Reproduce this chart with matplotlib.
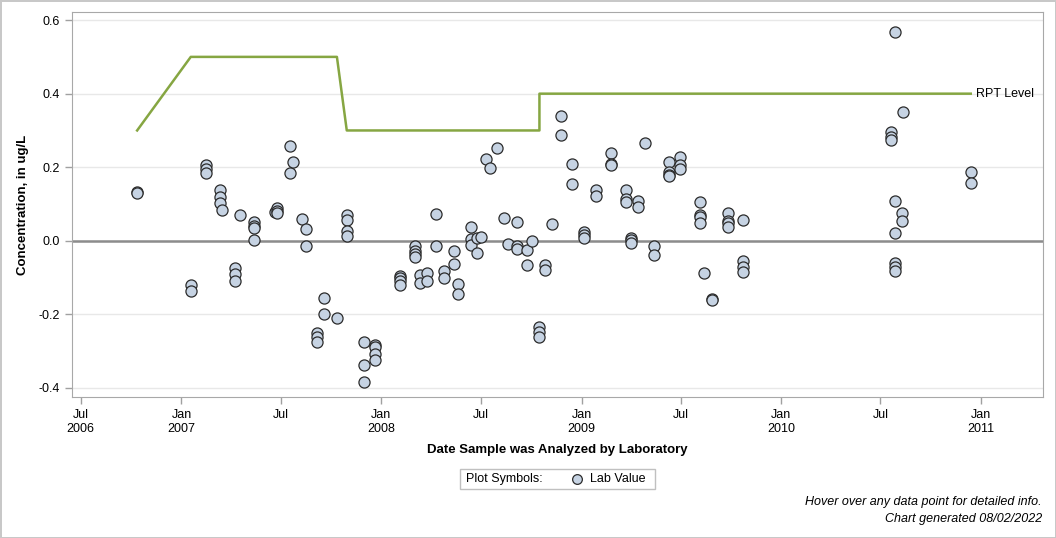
import numpy as np
import matplotlib
matplotlib.use('Agg')
import matplotlib.pyplot as plt
from matplotlib.lines import Line2D
from matplotlib.patches import Rectangle

plt.rcParams['font.family'] = ['Liberation Sans', 'DejaVu Sans']

# Fechas de analisis y valores de laboratorio (ug/L)
sample_dates = [
    '2006-10-12', '2007-01-18', '2007-02-15', '2007-03-12', '2007-03-16',
    '2007-04-09', '2007-04-18', '2007-05-14', '2007-06-21', '2007-06-25',
    '2007-07-18', '2007-07-24', '2007-08-09', '2007-08-17', '2007-09-06',
    '2007-09-18', '2007-10-12', '2007-10-30', '2007-11-30', '2007-12-21',
    '2008-02-04', '2008-03-02', '2008-03-12', '2008-03-25', '2008-04-10',
    '2008-04-25', '2008-05-13', '2008-05-21', '2008-06-13', '2008-06-24',
    '2008-07-01', '2008-07-10', '2008-07-18', '2008-07-30', '2008-08-12',
    '2008-08-19', '2008-09-05', '2008-09-23', '2008-10-02', '2008-10-16',
    '2008-10-27', '2008-11-08', '2008-11-24', '2008-12-14', '2009-01-06',
    '2009-01-27', '2009-02-24', '2009-03-23', '2009-04-02', '2009-04-14',
    '2009-04-27', '2009-05-13', '2009-06-10', '2009-06-30', '2009-08-05',
    '2009-08-13', '2009-08-27', '2009-09-25', '2009-10-23', '2010-07-20',
    '2010-07-27', '2010-08-09', '2010-08-12', '2010-12-13',
]
lab_values = [
    [0.133, 0.130], [-0.121, -0.137], [0.205, 0.196, 0.184], [0.138, 0.120, 0.103], [0.084],
    [-0.073, -0.090, -0.109], [0.070], [0.050, 0.040, 0.034, 0.003], [0.078], [0.089, 0.082, 0.075],
    [0.258, 0.184], [0.214], [0.059], [0.032, -0.014], [-0.251, -0.262, -0.274],
    [-0.155, -0.200], [-0.210], [0.071, 0.056, 0.027, 0.013], [-0.276, -0.338, -0.384], [-0.283, -0.288, -0.307, -0.324],
    [-0.095, -0.102, -0.108, -0.121], [-0.015, -0.027, -0.036, -0.043], [-0.093, -0.115], [-0.088, -0.110], [0.073, -0.014],
    [-0.082, -0.102], [-0.027, -0.063], [-0.118, -0.144], [0.037, 0.006, -0.012], [0.008, -0.034],
    [0.010], [0.222], [0.199], [0.252], [0.062],
    [-0.009], [0.051, -0.015, -0.022], [-0.024, -0.066], [0.000], [-0.235, -0.247, -0.262],
    [-0.067, -0.079], [0.045], [0.339, 0.288], [0.209, 0.154], [0.024, 0.017, 0.009],
    [0.139, 0.122], [0.239, 0.209, 0.205], [0.138, 0.114, 0.105], [0.007, 0.001, -0.007], [0.108, 0.093],
    [0.267], [-0.014, -0.038], [0.214, 0.186, 0.180, 0.176], [0.228, 0.207, 0.195], [0.105, 0.071, 0.065, 0.049],
    [-0.088], [-0.159, -0.161], [0.076, 0.054, 0.048, 0.037], [0.056, -0.054, -0.070, -0.085], [0.297, 0.282, 0.275],
    [0.568, 0.108, 0.022, -0.059, -0.070, -0.081], [0.076, 0.053], [0.350], [0.188, 0.158],
]

# Nivel RPT
rpt_dates = ['2006-10-12', '2007-01-18', '2007-10-12', '2007-10-30', '2008-10-16', '2008-10-16', '2010-12-13']
rpt_values = [0.3, 0.5, 0.5, 0.3, 0.3, 0.4, 0.4]

tick_dates = ['2006-07-01', '2007-01-01', '2007-07-01', '2008-01-01', '2008-07-01',
              '2009-01-01', '2009-07-01', '2010-01-01', '2010-07-01', '2011-01-01']
tick_labels = ['Jul\n2006', 'Jan\n2007', 'Jul', 'Jan\n2008', 'Jul',
               'Jan\n2009', 'Jul', 'Jan\n2010', 'Jul', 'Jan\n2011']

fill = '#c6d3e3'
edge = '#2b2b2b'

x = []
y = []
for d, vals in zip(sample_dates, lab_values):
    for v in vals:
        x.append(np.datetime64(d))
        y.append(v)

W, H = 1056, 538
fig = plt.figure(figsize=(W / 100, H / 100), dpi=100)
fig.patch.set_edgecolor('#c8c8c8')
fig.patch.set_linewidth(2)
ax = fig.add_axes([72 / W, 1 - 397 / H, (1043 - 72) / W, (397 - 12) / H])

ax.set_ylim(-0.4245, 0.622)
ax.set_xlim(np.datetime64('2006-06-15'), np.datetime64('2011-04-24'))
ax.set_yticks([-0.4, -0.2, 0.0, 0.2, 0.4, 0.6])
ax.set_yticklabels(['-0.4', '-0.2', '0.0', '0.2', '0.4', '0.6'])
ax.set_xticks([np.datetime64(t) for t in tick_dates])
ax.set_xticklabels(tick_labels)
ax.tick_params(axis='both', colors='#a0a0a0', labelcolor='black', labelsize=9, length=5, width=1)
ax.grid(axis='y', color='#e8e8e8', linewidth=1)
ax.set_axisbelow(True)
for s in ax.spines.values():
    s.set_color('#a8a8a8')

ax.axhline(0, color='#8c8c8c', linewidth=1.8, zorder=2)

ax.plot([np.datetime64(d) for d in rpt_dates], rpt_values, color='#86a642', linewidth=1.8, zorder=3)
ax.annotate('RPT Level', xy=(np.datetime64(rpt_dates[-1]), rpt_values[-1]), xytext=(4, 0),
            textcoords='offset points', va='center', ha='left', fontsize=9)

ax.plot(x, y, linestyle='none', marker='o', markersize=8, markerfacecolor=fill,
        markeredgecolor=edge, markeredgewidth=0.9, zorder=4)

ax.set_xlabel('Date Sample was Analyzed by Laboratory', fontsize=9.5, fontweight='bold', labelpad=7)
ax.set_ylabel('Concentration, in ug/L', fontsize=9.5, fontweight='bold', labelpad=7)

# Leyenda dibujada a mano
fig.patches.append(Rectangle((460 / W, 1 - 489 / H), 195 / W, 20 / H, transform=fig.transFigure,
                             facecolor='white', edgecolor='#c0c0c0', linewidth=1))
fig.text(466 / W, 1 - 479 / H, 'Plot Symbols:', ha='left', va='center', fontsize=9)
fig.lines.append(Line2D([577 / W], [1 - 479 / H], transform=fig.transFigure, linestyle='none',
                        marker='o', markersize=7, markerfacecolor=fill, markeredgecolor=edge,
                        markeredgewidth=0.9))
fig.text(590 / W, 1 - 479 / H, 'Lab Value', ha='left', va='center', fontsize=9)

fig.text(1042 / W, 1 - 502 / H, 'Hover over any data point for detailed info.',
         ha='right', va='center', fontsize=9, style='italic')
fig.text(1042 / W, 1 - 519 / H, 'Chart generated 08/02/2022',
         ha='right', va='center', fontsize=9, style='italic')

fig.savefig('out.png', dpi=100, edgecolor=fig.get_edgecolor())
